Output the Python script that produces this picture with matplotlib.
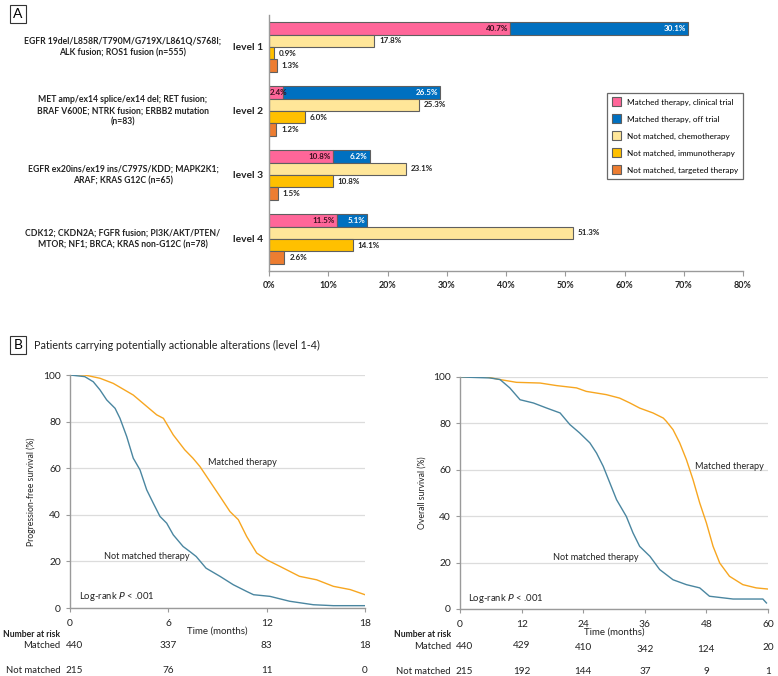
import matplotlib

matplotlib.use("Agg")
import matplotlib.pyplot as plt
from matplotlib.patches import Patch

plt.rcParams["font.family"] = ["Lato", "DejaVu Sans"]

# ---- panel A data ----
levels = ["level 1", "level 2", "level 3", "level 4"]
descriptions = [
    "EGFR 19del/L858R/T790M/G719X/L861Q/S768I;\nALK fusion; ROS1 fusion (n=555)",
    "MET amp/ex14 splice/ex14 del; RET fusion;\nBRAF V600E; NTRK fusion; ERBB2 mutation\n(n=83)",
    "EGFR ex20ins/ex19 ins/C797S/KDD; MAPK2K1;\nARAF; KRAS G12C (n=65)",
    "CDK12; CKDN2A; FGFR fusion; PI3K/AKT/PTEN/\nMTOR; NF1; BRCA; KRAS non-G12C (n=78)",
]
matched_trial = [40.7, 2.4, 10.8, 11.5]
matched_off = [30.1, 26.5, 6.2, 5.1]
chemo = [17.8, 25.3, 23.1, 51.3]
immuno = [0.9, 6.0, 10.8, 14.1]
targeted = [1.3, 1.2, 1.5, 2.6]
legend_labels = [
    "Matched therapy, clinical trial",
    "Matched therapy, off trial",
    "Not matched, chemotherapy",
    "Not matched, immunotherapy",
    "Not matched, targeted therapy",
]

# ---- panel B data ----
pfs_m_t = [0, 0.9, 1.83, 2.64, 3.86, 5.29, 5.7, 6.3, 7.0, 7.5, 7.93, 8.54, 9.15, 9.76,
           10.27, 10.78, 11.39, 12.0, 12.8, 14.0, 15.05, 16.07, 17.1, 18.0]
pfs_m_s = [100, 100, 98.6, 96.4, 91.4, 82.9, 81.4, 74.3, 67.9, 64.3, 60.7, 54.3, 47.9, 41.4,
           37.9, 30.7, 23.6, 20.7, 17.9, 13.6, 12.1, 9.3, 7.9, 5.7]
pfs_n_t = [0, 0.9, 1.42, 1.83, 2.24, 2.75, 3.05, 3.46, 3.86, 4.27, 4.68, 5.08, 5.49, 5.9,
           6.3, 6.9, 7.3, 7.7, 8.3, 9.15, 9.96, 10.78, 11.2, 12.2, 13.4, 14.85, 16.07, 18.0]
pfs_n_s = [100, 99.3, 97.1, 93.6, 89.3, 85.7, 81.4, 73.6, 64.3, 59.3, 50.7, 45.0, 39.3, 36.4,
           31.4, 26.4, 24.3, 22.1, 17.1, 13.6, 10.0, 7.1, 5.7, 5.0, 2.9, 1.4, 1.0, 1.0]
os_m_t = [0, 5.2, 7.8, 11.0, 15.6, 18.8, 22.7, 24.6, 28.5, 31.1, 33.1, 35.0, 37.6, 39.6,
          40.2, 41.5, 42.8, 44.1, 45.4, 46.7, 48.0, 49.3, 50.6, 52.5, 55.1, 57.7, 60.0]
os_m_s = [100, 100, 98.9, 97.7, 97.4, 96.3, 95.3, 93.8, 92.4, 90.9, 88.8, 86.6, 84.5, 82.3,
          80.9, 77.3, 71.6, 64.4, 55.7, 45.7, 37.1, 27.0, 19.8, 14.1, 10.5, 9.1, 8.6]
os_n_t = [0, 5.8, 7.8, 9.7, 11.7, 14.3, 16.9, 19.5, 21.4, 23.3, 25.3, 26.6, 27.9, 29.2,
          30.5, 32.4, 33.7, 35.0, 37.0, 38.9, 41.5, 44.1, 46.7, 48.6, 53.2, 59.0, 59.7]
os_n_s = [100, 99.6, 98.9, 95.3, 90.2, 88.8, 86.6, 84.5, 79.5, 75.9, 71.6, 67.2, 61.5, 54.3,
          47.1, 39.9, 32.8, 27.0, 22.7, 17.0, 12.6, 10.5, 9.1, 5.5, 4.3, 4.3, 2.6]

pfs_ticks = [0, 6, 12, 18]
pfs_risk_matched = [440, 337, 83, 18]
pfs_risk_not = [215, 76, 11, 0]
os_ticks = [0, 12, 24, 36, 48, 60]
os_risk_matched = [440, 429, 410, 342, 124, 20]
os_risk_not = [215, 192, 144, 37, 9, 1]

C_PINK = "#FF6699"
C_BLUE = "#0070C0"
C_CHEMO = "#FFE699"
C_IMMUNO = "#FFC000"
C_TARGET = "#ED7D31"
C_EDGE = "#5f5f5f"
C_ORANGE = "#F7A620"
C_TEAL = "#4A86A0"
C_AXIS = "#9a9a9a"
C_TEXT = "#222222"

fig = plt.figure(figsize=(7.78, 6.76), dpi=100)
W, H = 778, 676


def px_axes(x0, y0, x1, y1):
    return fig.add_axes([x0 / W, 1 - y1 / H, (x1 - x0) / W, (y1 - y0) / H])


# ================= panel A =================
ax = px_axes(269, 15, 743, 271)
h = 0.195
offs = [-0.2925, -0.0975, 0.0975, 0.2925]
yy = list(range(len(levels)))
bar_kw = dict(height=h, edgecolor=C_EDGE, linewidth=0.8)

ax.barh([y + offs[0] for y in yy], matched_trial, color=C_PINK, **bar_kw)
ax.barh([y + offs[0] for y in yy], matched_off, left=matched_trial, color=C_BLUE, **bar_kw)
ax.barh([y + offs[1] for y in yy], chemo, color=C_CHEMO, **bar_kw)
ax.barh([y + offs[2] for y in yy], immuno, color=C_IMMUNO, **bar_kw)
ax.barh([y + offs[3] for y in yy], targeted, color=C_TARGET, **bar_kw)

lab_kw = dict(fontsize=5.8, fontweight="bold", va="center")
for i in yy:
    a, b = matched_trial[i], matched_off[i]
    if a < 5:
        ax.text(0.1, i + offs[0], f"{a}%", ha="left", color="#3a1020", **lab_kw)
    else:
        ax.annotate(f"{a}%", (a, i + offs[0]), xytext=(-1.5, 0), textcoords="offset points",
                    ha="right", color="#3a1020", **lab_kw)
    ax.annotate(f"{b}%", (a + b, i + offs[0]), xytext=(-1.5, 0), textcoords="offset points",
                ha="right", color="white", **lab_kw)
    for k, vals in ((1, chemo), (2, immuno), (3, targeted)):
        ax.annotate(f"{vals[i]}%", (vals[i], i + offs[k]), xytext=(3.5, 0),
                    textcoords="offset points", ha="left", color=C_TEXT, **lab_kw)
    ax.text(-0.044, i, levels[i], transform=ax.get_yaxis_transform(), ha="center",
            va="center", fontsize=7.4, fontweight="bold", color=C_TEXT)
    ax.text(-0.308, i, descriptions[i], transform=ax.get_yaxis_transform(), ha="center",
            va="center", fontsize=6.25, fontweight="bold", color=C_TEXT, linespacing=1.35)

ax.set_xlim(0, 80)
ax.set_ylim(3.5, -0.5)
ax.set_yticks([])
ax.set_xticks(range(0, 81, 10))
ax.set_xticklabels([f"{v}%" for v in range(0, 81, 10)], fontsize=6.4, fontweight="bold",
                   color=C_TEXT)
ax.tick_params(axis="x", length=3.5, width=0.8, color=C_AXIS, pad=4)
for s in ("top", "right"):
    ax.spines[s].set_visible(False)
for s in ("left", "bottom"):
    ax.spines[s].set_color(C_AXIS)
    ax.spines[s].set_linewidth(1.0)

handles = [Patch(facecolor=c, edgecolor=C_EDGE, linewidth=0.8)
           for c in (C_PINK, C_BLUE, C_CHEMO, C_IMMUNO, C_TARGET)]
leg = ax.legend(handles, legend_labels, loc="upper left", bbox_to_anchor=(0.714, 0.697),
                fontsize=5.9, frameon=True, fancybox=False, handlelength=1.05,
                handleheight=1.2, handletextpad=0.75, labelspacing=1.05, borderpad=0.6,
                borderaxespad=0)
leg.get_frame().set_edgecolor("#444444")
leg.get_frame().set_linewidth(0.9)

fig.text(18 / W, 1 - 14 / H, "A", fontsize=10, ha="center", va="center",
         bbox=dict(boxstyle="square,pad=0.25", facecolor="white", edgecolor="#333333",
                   linewidth=0.8))

# ================= panel B =================
fig.text(18 / W, 1 - 345 / H, "B", fontsize=10, ha="center", va="center",
         bbox=dict(boxstyle="square,pad=0.25", facecolor="white", edgecolor="#333333",
                   linewidth=0.8))
fig.text(34 / W, 1 - 345 / H, "Patients carrying potentially actionable alterations (level 1-4)",
         fontsize=7.75, ha="left", va="center", color=C_TEXT)


def draw_km(ax, m_t, m_s, n_t, n_s, ticks, risk_m, risk_n, ylabel, lab_m, lab_n, logrank,
            risk_dy, lab_x_px):
    ax.plot(m_t, m_s, color=C_ORANGE, linewidth=1.0)
    ax.plot(n_t, n_s, color=C_TEAL, linewidth=1.0)
    ax.set_xlim(ticks[0], ticks[-1])
    ax.set_ylim(0, 100)
    ax.set_yticks(range(0, 101, 20))
    ax.set_xticks(ticks)
    ax.yaxis.grid(True, color="#dcdcdc", linewidth=0.9)
    ax.set_axisbelow(True)
    ax.tick_params(labelsize=7.4, length=3, width=0.8, color=C_AXIS, labelcolor=C_TEXT)
    ax.tick_params(axis="x", pad=5)
    for s in ("top", "right"):
        ax.spines[s].set_visible(False)
    for s in ("left", "bottom"):
        ax.spines[s].set_color(C_AXIS)
        ax.spines[s].set_linewidth(1.0)
    ax.set_ylabel(ylabel, fontsize=6.2, color=C_TEXT, labelpad=5)
    ax.set_xlabel("Time (months)", fontsize=7.0, color=C_TEXT, labelpad=-1)
    ax.text(lab_m[0], lab_m[1], "Matched therapy", fontsize=6.6, color=C_TEXT, va="center")
    ax.text(lab_n[0], lab_n[1], "Not matched therapy", fontsize=6.6, color=C_TEXT,
            va="center")
    ax.text(logrank[0], logrank[1], "Log-rank $\\it{P}$ < .001", fontsize=6.8,
            color=C_TEXT, va="center")

    tr = ax.get_xaxis_transform()
    for j, (t, v, dy) in enumerate(zip(ticks, risk_m, risk_dy)):
        ax.annotate(str(v), (t, -0.162 - dy), xycoords=tr, xytext=(3 if j == 0 else 0, 0),
                    textcoords="offset points", ha="center", va="center",
                    fontsize=7.2, color=C_TEXT, annotation_clip=False)
    for j, (t, v) in enumerate(zip(ticks, risk_n)):
        ax.annotate(str(v), (t, -0.268), xycoords=tr, xytext=(3 if j == 0 else 0, 0),
                    textcoords="offset points", ha="center", va="center",
                    fontsize=7.2, color=C_TEXT, annotation_clip=False)
    pos = ax.get_position()
    x_lab = (lab_x_px - pos.x0 * W) / (pos.width * W)
    ax.text(x_lab, -0.112, "Number at risk", transform=ax.transAxes, ha="right",
            va="center", fontsize=6.2, fontweight="bold", color=C_TEXT, clip_on=False)
    ax.text(x_lab, -0.162, "Matched", transform=ax.transAxes, ha="right", va="center",
            fontsize=6.8, color=C_TEXT, clip_on=False)
    ax.text(x_lab, -0.268, "Not matched", transform=ax.transAxes, ha="right", va="center",
            fontsize=6.8, color=C_TEXT, clip_on=False)


ax_pfs = px_axes(70, 375, 365, 608)
draw_km(ax_pfs, pfs_m_t, pfs_m_s, pfs_n_t, pfs_n_s, pfs_ticks, pfs_risk_matched,
        pfs_risk_not, "Progression-free survival (%)", (8.4, 62.4), (2.1, 22.3), (0.55, 5.0),
        [0, 0, 0, 0], 60)

ax_os = px_axes(460, 377, 768, 609)
draw_km(ax_os, os_m_t, os_m_s, os_n_t, os_n_s, os_ticks, os_risk_matched, os_risk_not,
        "Overall survival (%)", (45.8, 61.3), (18.1, 22.1), (1.5, 4.7),
        [0, -0.006, 0.006, 0.014, 0.014, 0.006], 451)

fig.savefig("out.png", dpi=100)
